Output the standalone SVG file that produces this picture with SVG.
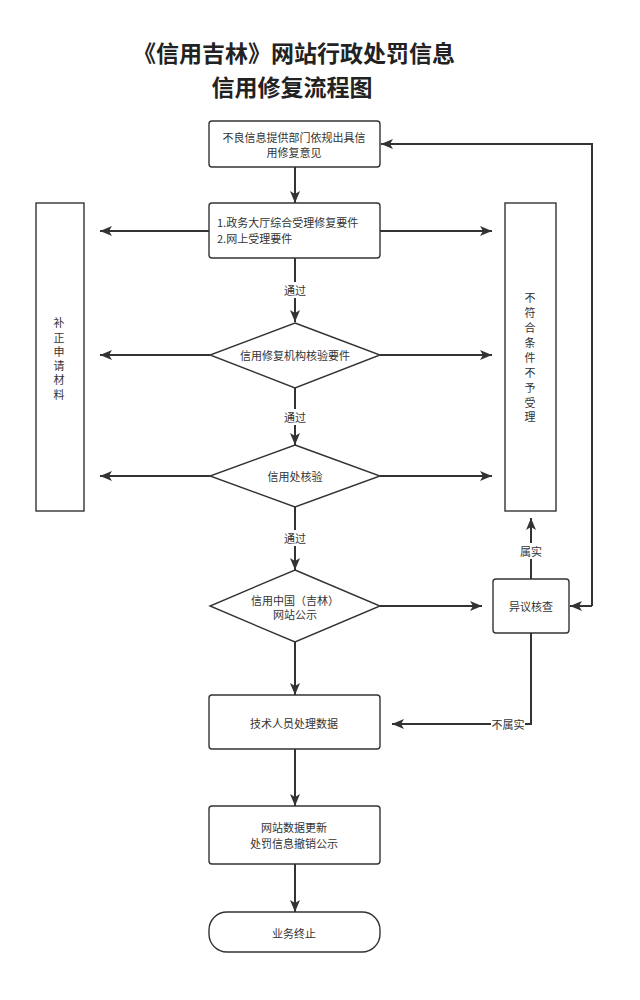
<svg xmlns="http://www.w3.org/2000/svg" width="640" height="1000" viewBox="0 0 640 1000">
<style>
text{font-family:"Noto Sans CJK SC","Noto Sans",sans-serif;fill:#333;}
.t{font-size:11px;text-anchor:middle;dominant-baseline:central;}
.l{font-size:11px;dominant-baseline:central;}
.title{font-size:23px;font-weight:bold;text-anchor:middle;dominant-baseline:central;fill:#222;}
.node{fill:#fff;stroke:#333;stroke-width:1.4;}
.c{fill:none;stroke:#333;stroke-width:2;}
.lbl{fill:#fff;stroke:none;}
</style>
<defs>
<marker id="a" markerUnits="userSpaceOnUse" markerWidth="12" markerHeight="10" refX="12" refY="5" orient="auto">
<path d="M0,0 L12,5 L0,10 L3,5 z" fill="#333"/>
</marker>
</defs>
<rect width="640" height="1000" fill="#fff"/>
<g id="title">
<text class="title" x="294" y="52">《信用吉林》网站行政处罚信息</text>
<text class="title" x="292" y="86">信用修复流程图</text>
</g>
<g id="connectors">
<path class="c" d="M295,167 V203" marker-end="url(#a)"/>
<path class="c" d="M209,231 H100" marker-end="url(#a)"/>
<path class="c" d="M380,231 H492" marker-end="url(#a)"/>
<path class="c" d="M295,258 V322" marker-end="url(#a)"/>
<path class="c" d="M210,355 H100" marker-end="url(#a)"/>
<path class="c" d="M380,355 H492" marker-end="url(#a)"/>
<path class="c" d="M295,388 V445" marker-end="url(#a)"/>
<path class="c" d="M210,476 H100" marker-end="url(#a)"/>
<path class="c" d="M380,476 H492" marker-end="url(#a)"/>
<path class="c" d="M295,507 V570" marker-end="url(#a)"/>
<path class="c" d="M380,606 H482" marker-end="url(#a)"/>
<path class="c" d="M531,579 V518" marker-end="url(#a)"/>
<path class="c" d="M592,606 H570" marker-end="url(#a)"/>
<path class="c" d="M592,606 V144 H381" marker-end="url(#a)"/>
<path class="c" d="M531,633 V724 H392" marker-end="url(#a)"/>
<path class="c" d="M295,642 V695" marker-end="url(#a)"/>
<path class="c" d="M295,749 V806" marker-end="url(#a)"/>
<path class="c" d="M295,864 V912" marker-end="url(#a)"/>
<rect class="lbl" x="283" y="282" width="24" height="16"/>
<text class="t" x="295" y="290">通过</text>
<rect class="lbl" x="283" y="409" width="24" height="16"/>
<text class="t" x="295" y="417">通过</text>
<rect class="lbl" x="283" y="530" width="24" height="16"/>
<text class="t" x="295" y="538">通过</text>
<rect class="lbl" x="519" y="543" width="24" height="16"/>
<text class="t" x="531" y="551">属实</text>
<rect class="lbl" x="491" y="716" width="34" height="16"/>
<text class="t" x="508" y="724">不属实</text>
</g>
<g id="n1">
<rect class="node" x="209" y="121" width="171" height="46" rx="3"/>
<text class="t" x="294" y="137">不良信息提供部门依规出具信</text>
<text class="t" x="294" y="152">用修复意见</text>
</g>
<g id="n2">
<rect class="node" x="209" y="203" width="171" height="55" rx="3"/>
<text class="l" x="217" y="222">1.政务大厅综合受理修复要件</text>
<text class="l" x="217" y="238">2.网上受理要件</text>
</g>
<g id="left">
<rect class="node" x="36" y="203" width="48" height="308"/>
<text class="t" x="59" y="322">补</text>
<text class="t" x="59" y="337">正</text>
<text class="t" x="59" y="351">申</text>
<text class="t" x="59" y="365">请</text>
<text class="t" x="59" y="379">材</text>
<text class="t" x="59" y="394">料</text>
</g>
<g id="right">
<rect class="node" x="505" y="203" width="51" height="308"/>
<text class="t" x="530" y="297">不</text>
<text class="t" x="530" y="312">符</text>
<text class="t" x="530" y="327">合</text>
<text class="t" x="530" y="342">条</text>
<text class="t" x="530" y="357">件</text>
<text class="t" x="530" y="372">不</text>
<text class="t" x="530" y="387">予</text>
<text class="t" x="530" y="402">受</text>
<text class="t" x="530" y="416">理</text>
</g>
<g id="d1">
<polygon class="node" points="295,323 380,355 295,388 210,355"/>
<text class="t" x="295" y="355">信用修复机构核验要件</text>
</g>
<g id="d2">
<polygon class="node" points="295,445 380,476 295,507 210,476"/>
<text class="t" x="295" y="476">信用处核验</text>
</g>
<g id="d3">
<polygon class="node" points="295,570 380,606 295,642 210,606"/>
<text class="t" x="295" y="600">信用中国（吉林）</text>
<text class="t" x="295" y="614">网站公示</text>
</g>
<g id="n3">
<rect class="node" x="493" y="579" width="76" height="54" rx="3"/>
<text class="t" x="531" y="606">异议核查</text>
</g>
<g id="n4">
<rect class="node" x="209" y="695" width="171" height="54" rx="3"/>
<text class="t" x="294" y="723">技术人员处理数据</text>
</g>
<g id="n5">
<rect class="node" x="209" y="806" width="171" height="58" rx="3"/>
<text class="t" x="294" y="827">网站数据更新</text>
<text class="t" x="294" y="843">处罚信息撤销公示</text>
</g>
<g id="n6">
<rect class="node" x="209" y="912" width="171" height="40" rx="18"/>
<text class="t" x="294" y="933">业务终止</text>
</g>
</svg>
